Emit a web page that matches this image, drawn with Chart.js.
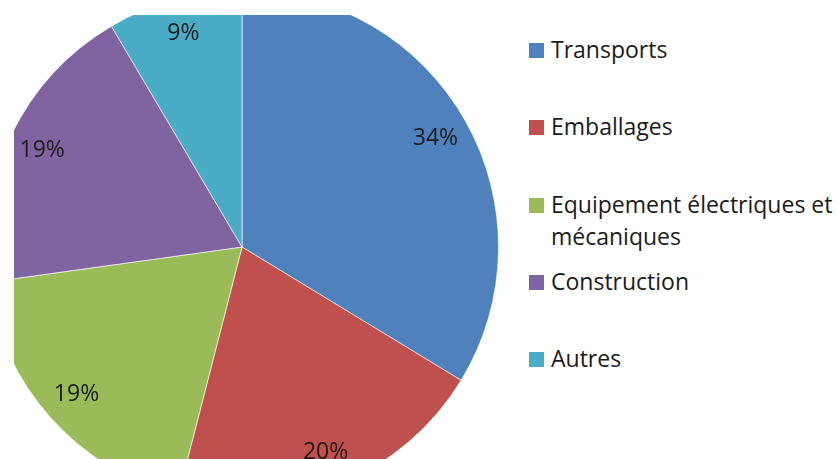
<!DOCTYPE html>
<html>
<head>
<meta charset="utf-8">
<script src="https://cdn.jsdelivr.net/npm/chart.js@4/dist/chart.umd.min.js"></script>
<style>
  html, body { margin: 0; padding: 0; background: #fff; }
  body { width: 838px; height: 459px; position: relative; overflow: hidden; font-family: "Open Sans", sans-serif; }
  #clip { position: absolute; left: 14px; top: 15px; width: 486px; height: 444px; overflow: hidden; }
  #pie { position: absolute; left: -29px; top: -25px; }
  #legend { position: absolute; left: 529px; top: 0; width: 309px; }
  .item { position: absolute; left: 0; font-size: 23px; line-height: 32px; color: #1b1b1b; }
  .sw { position: absolute; left: 0; top: 10px; width: 15px; height: 15px; }
  .txt { position: absolute; left: 22px; top: 0; width: 290px; }
</style>
</head>
<body>
<div id="clip"><canvas id="pie" width="514" height="514"></canvas></div>
<div id="legend"></div>
<script>
const categories = ["Transports", "Emballages", "Equipement électriques et mécaniques", "Construction", "Autres"];
const shares = [33.7, 20.3, 18.8, 18.7, 8.5];
const colors = ["#4F81BD", "#C0504D", "#9BBB59", "#8064A2", "#4BACC6"];

const labelPlugin = {
  id: 'sliceLabels',
  afterDatasetsDraw(chart) {
    const ctx = chart.ctx;
    const meta = chart.getDatasetMeta(0);
    const total = shares.reduce((a, b) => a + b, 0);
    ctx.save();
    ctx.font = '23px "Open Sans", sans-serif';
    ctx.fillStyle = '#1b1b1b';
    ctx.textAlign = 'center';
    ctx.textBaseline = 'middle';
    meta.data.forEach((arc, i) => {
      const p = arc.getProps(['x', 'y', 'startAngle', 'endAngle', 'outerRadius'], true);
      const mid = (p.startAngle + p.endAngle) / 2;
      const r = p.outerRadius * 0.865;
      const pct = Math.round(shares[i] / total * 100);
      ctx.fillText(pct + '%', p.x + Math.cos(mid) * r, p.y + Math.sin(mid) * r);
    });
    ctx.restore();
  }
};

new Chart(document.getElementById('pie'), {
  type: 'pie',
  data: {
    labels: categories,
    datasets: [{
      data: shares,
      backgroundColor: colors,
      borderColor: 'rgba(255,255,255,0.6)',
      borderWidth: 1
    }]
  },
  options: {
    responsive: false,
    animation: false,
    layout: { padding: 0 },
    plugins: { legend: { display: false }, tooltip: { enabled: false } }
  },
  plugins: [labelPlugin]
});

const legend = document.getElementById('legend');
categories.forEach((name, i) => {
  const item = document.createElement('div');
  item.className = 'item';
  item.style.top = (33 + i * 77.25) + 'px';
  const sw = document.createElement('div');
  sw.className = 'sw';
  sw.style.background = colors[i];
  const t = document.createElement('div');
  t.className = 'txt';
  t.textContent = name;
  item.appendChild(sw);
  item.appendChild(t);
  legend.appendChild(item);
});
</script>
</body>
</html>
